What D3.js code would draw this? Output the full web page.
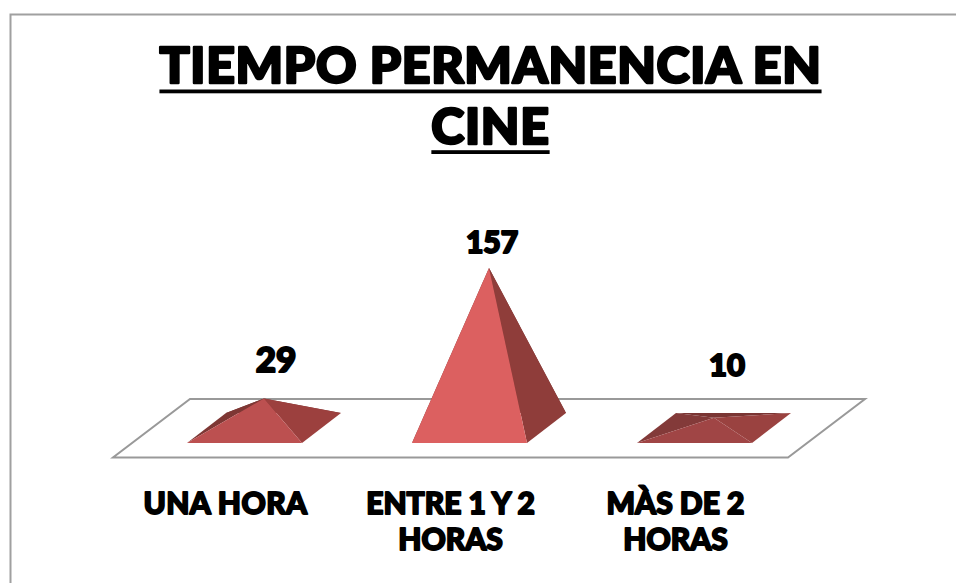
<!DOCTYPE html>
<html><head><meta charset="utf-8">
<script src="https://cdn.jsdelivr.net/npm/d3@7"></script>
<style>html,body{margin:0;background:#fff}svg{display:block}text{font-family:Lato,"Noto Sans",sans-serif;font-weight:900;fill:#000;stroke:#000;stroke-linejoin:round;text-anchor:middle}</style>
</head><body><svg id="c" width="956" height="583"></svg>
<script>
const titleLines = ["TIEMPO PERMANENCIA EN", "CINE"];
const categories = ["UNA HORA", "ENTRE 1 Y 2 HORAS", "MÀS DE 2 HORAS"];
const categoryLines = [["UNA HORA"], ["ENTRE 1 Y 2", "HORAS"], ["MÀS DE 2", "HORAS"]];
const values = [29, 157, 10];
const frontColors = ["#bc5050", "#dc6060", "#a04545"];
const rightColors = ["#9c403e", "#8f3d3a", "#9a4240"];
const leftColors  = ["#7e3734", "#7e3734", "#833a39"];
const backColors  = ["#7a3533", "#7a3533", "#7a3533"];

const svg = d3.select("#c");
// frame
svg.append("path").attr("d","M10.5,583V14.5H956").attr("fill","none").attr("stroke","#a0a0a0").attr("stroke-width",2);

const floor = {x0:113, x1:788, y:457.5, dx:77, dy:-58.5};
const x = d3.scaleBand().domain(categories).range([floor.x0, floor.x1]);
const yBase = 428;
const y = d3.scaleLinear().domain([0,157]).range([yBase, 268]);
const baseW = 115, depthX = 39, depthY = 15;

svg.append("path")
  .attr("d",`M${floor.x0},${floor.y}H${floor.x1}L${floor.x1+floor.dx},${floor.y+floor.dy}H${floor.x0+floor.dx}Z`)
  .attr("fill","none").attr("stroke","#999").attr("stroke-width",2);

const line = d3.line();
const labelDx = [12, 3, 13];
const labelBaseline = [372, 253, 376];
const labelSize = [35, 30, 31];
const catSpacing = ["0.4px", "0px", "0px"];
categories.forEach((c,i)=>{
  const fx = x(c)+x.bandwidth()/2;
  const cx = fx+floor.dx/2;
  const FL=[cx-baseW/2-depthX/2,yBase+depthY], FR=[cx+baseW/2-depthX/2,yBase+depthY];
  const BR=[FR[0]+depthX,yBase-depthY], BL=[FL[0]+depthX,yBase-depthY];
  const A=[cx,y(values[i])];
  const g = svg.append("g");
  [[[BL,BR,A],backColors[i]],[[FL,BL,A],leftColors[i]],[[FR,BR,A],rightColors[i]],[[FL,FR,A],frontColors[i]]]
    .forEach(([p,col])=>g.append("path").attr("d",line(p)+"Z").attr("fill",col));
  svg.append("text").attr("x",cx+labelDx[i]).attr("y",labelBaseline[i]).attr("font-size",labelSize[i]).attr("stroke-width",2).text(values[i]);
  categoryLines[i].forEach((t,j)=>svg.append("text").attr("x",fx).attr("y",513.5+j*36).attr("font-size",30).attr("stroke-width",1.8).style("letter-spacing",catSpacing[i]).text(t));
});

titleLines.forEach((t,j)=>{
  const tx = svg.append("text").attr("x",490.5).attr("y",83+j*61).attr("font-size",50).attr("stroke-width",2.6).style("letter-spacing","0.7px").text(t);
  const w = tx.node().getComputedTextLength();
  svg.append("rect").attr("x",490.5-w/2).attr("y",89.5+j*60.7).attr("width",w).attr("height",3.8).attr("fill","#000");
});
</script></body></html>
